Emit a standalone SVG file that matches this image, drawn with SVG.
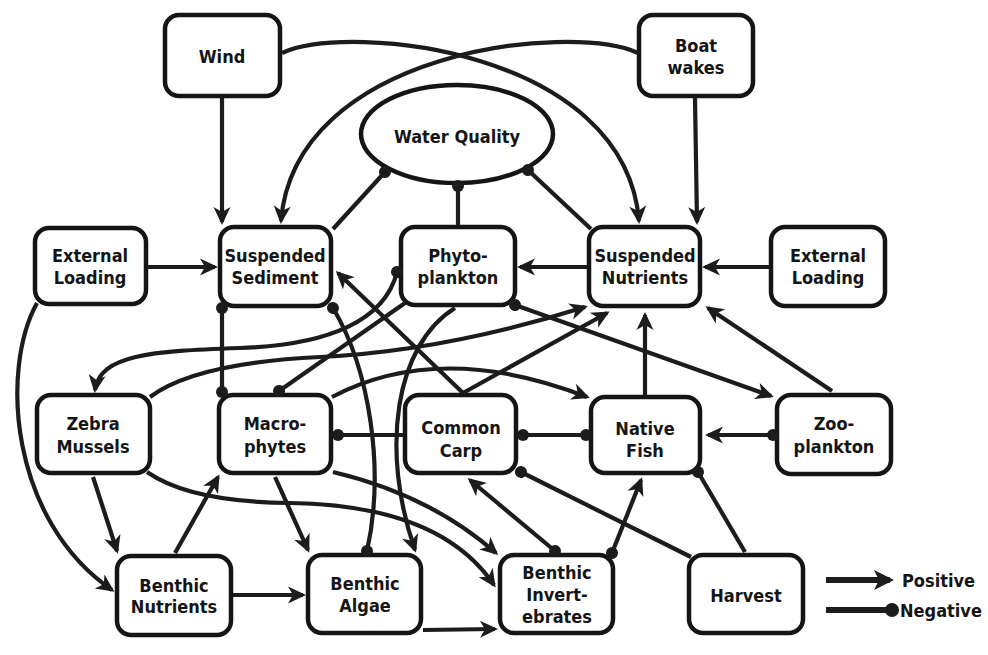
<svg xmlns="http://www.w3.org/2000/svg" width="988" height="655" viewBox="0 0 988 655">
<defs>
<style>
.n{fill:#fff;stroke:#151515;stroke-width:4.5}
.c{fill:none;stroke:#1c1c1c;stroke-width:4.2}
.t{font-family:"DejaVu Sans Condensed","DejaVu Sans",sans-serif;font-weight:bold;font-size:18px;fill:#151515;text-anchor:middle}
.lg{font-family:"DejaVu Sans Condensed","DejaVu Sans",sans-serif;font-weight:bold;font-size:18px;fill:#151515}
.pos{marker-end:url(#arr)}
.neg{marker-end:url(#dot)}
.ds{marker-start:url(#dot)}
</style>
<marker id="arr" markerUnits="userSpaceOnUse" viewBox="-20 -10 25 20" markerWidth="25" markerHeight="20" refX="0" refY="0" orient="auto">
<path d="M3,0 L-15,-8.5 L-10,0 L-15,8.5 Z" fill="#1c1c1c"/>
</marker>
<marker id="arrL" markerUnits="userSpaceOnUse" viewBox="-22 -12 28 24" markerWidth="28" markerHeight="24" refX="0" refY="0" orient="auto">
<path d="M4,0 L-16,-10 L-11,0 L-16,10 Z" fill="#1c1c1c"/>
</marker>
<marker id="dot" markerUnits="userSpaceOnUse" viewBox="-8 -8 16 16" markerWidth="16" markerHeight="16" refX="0" refY="0" orient="auto">
<circle cx="0" cy="0" r="6" fill="#1c1c1c"/>
</marker>
</defs>
<rect x="0" y="0" width="988" height="655" fill="#fff"/>

<g id="nodes">
<g id="wind"><rect class="n" x="165" y="15" width="115" height="81" rx="14"/><text class="t" x="222" y="63">Wind</text></g>
<g id="boat"><rect class="n" x="639" y="15" width="114" height="81" rx="14"/><text class="t" x="696" y="52">Boat</text><text class="t" x="696" y="74">wakes</text></g>
<g id="waterquality"><ellipse class="n" cx="457" cy="134" rx="96" ry="49"/><text class="t" x="457" y="143">Water Quality</text></g>
<g id="extload1"><rect class="n" x="35" y="228" width="111" height="76" rx="14"/><text class="t" x="90" y="262">External</text><text class="t" x="90" y="284">Loading</text></g>
<g id="suspsed"><rect class="n" x="220" y="227" width="111" height="79" rx="14"/><text class="t" x="275" y="262">Suspended</text><text class="t" x="275" y="284">Sediment</text></g>
<g id="phyto"><rect class="n" x="401" y="227" width="114" height="78" rx="14"/><text class="t" x="458" y="262">Phyto-</text><text class="t" x="458" y="284">plankton</text></g>
<g id="suspnut"><rect class="n" x="589" y="227" width="111" height="79" rx="14"/><text class="t" x="645" y="262">Suspended</text><text class="t" x="645" y="284">Nutrients</text></g>
<g id="extload2"><rect class="n" x="771" y="227" width="114" height="79" rx="14"/><text class="t" x="828" y="262">External</text><text class="t" x="828" y="284">Loading</text></g>
<g id="zebra"><rect class="n" x="37" y="395" width="113" height="78" rx="14"/><text class="t" x="93" y="430">Zebra</text><text class="t" x="93" y="453">Mussels</text></g>
<g id="macro"><rect class="n" x="219" y="395" width="112" height="78" rx="14"/><text class="t" x="275" y="430">Macro-</text><text class="t" x="275" y="453">phytes</text></g>
<g id="carp"><rect class="n" x="405" y="395" width="111" height="78" rx="14"/><text class="t" x="461" y="434">Common</text><text class="t" x="461" y="457">Carp</text></g>
<g id="fish"><rect class="n" x="591" y="397" width="109" height="76" rx="14"/><text class="t" x="645" y="435">Native</text><text class="t" x="645" y="457">Fish</text></g>
<g id="zoo"><rect class="n" x="777" y="395" width="114" height="79" rx="14"/><text class="t" x="834" y="430">Zoo-</text><text class="t" x="834" y="453">plankton</text></g>
<g id="bnut"><rect class="n" x="117" y="556" width="114" height="79" rx="14"/><text class="t" x="174" y="592">Benthic</text><text class="t" x="174" y="613">Nutrients</text></g>
<g id="balgae"><rect class="n" x="308" y="555" width="113" height="78" rx="14"/><text class="t" x="365" y="590">Benthic</text><text class="t" x="365" y="612">Algae</text></g>
<g id="binv"><rect class="n" x="500" y="555" width="113" height="78" rx="14"/><text class="t" x="557" y="579">Benthic</text><text class="t" x="557" y="601">Invert-</text><text class="t" x="557" y="623">ebrates</text></g>
<g id="harvest"><rect class="n" x="689" y="555" width="114" height="78" rx="14"/><text class="t" x="746" y="602">Harvest</text></g>
</g>

<g id="connectors">
<path class="c pos" d="M222,98 L222,222"/>
<path class="c pos" d="M282,53 C350,22 625,50 639,221"/>
<path class="c pos" d="M638,53 C570,22 295,50 281,221"/>
<path class="c pos" d="M695,98 L697,222"/>
<path class="c pos" d="M147,267 L215,267"/>
<path class="c pos" d="M769,267 L705,267"/>
<path class="c pos" d="M587,267 L520,267"/>
<path class="c neg" d="M333,229 L385,172"/>
<path class="c neg" d="M458,225 L458,186"/>
<path class="c neg" d="M591,229 L528,170"/>
<path class="c neg ds" d="M222,308 L222,392"/>
<path class="c neg ds" d="M333,308 C370,370 385,470 367,551"/>
<path class="c pos ds" d="M397,272 C385,320 330,345 240,348 C150,351 100,355 95,390"/>
<path class="c neg" d="M405,303 L279,391"/>
<path class="c pos" d="M455,308 C395,345 380,450 415,550"/>
<path class="c pos ds" d="M515,305 L771,396"/>
<path class="c pos" d="M463,393 L338,273"/>
<path class="c pos" d="M463,393 L607,313"/>
<path class="c pos" d="M150,397 Q195,363 320,357 Q445,351 585,307"/>
<path class="c pos" d="M332,397 Q440,340 587,397"/>
<path class="c neg" d="M403,435 L338,435"/>
<path class="c neg ds" d="M523,435 L586,435"/>
<path class="c pos ds" d="M773,435 L708,435"/>
<path class="c pos" d="M645,395 L645,315"/>
<path class="c pos" d="M832,391 L708,308"/>
<path class="c neg" d="M745,552 L698,472"/>
<path class="c neg" d="M691,557 L521,472"/>
<path class="c pos ds" d="M612,553 L641,480"/>
<path class="c pos ds" d="M555,551 L470,480"/>
<path class="c pos" d="M333,472 Q430,495 496,553"/>
<path class="c pos" d="M147,472 Q190,502 290,503 Q440,505 494,585"/>
<path class="c pos" d="M275,477 L308,550"/>
<path class="c pos" d="M93,477 L117,551"/>
<path class="c pos" d="M175,553 L218,477"/>
<path class="c pos" d="M37,303 C0,370 10,520 112,590"/>
<path class="c pos" d="M233,595 L303,595"/>
<path class="c pos" d="M423,630 L495,629"/>
</g>

<g id="legend">
<path d="M826,580 L890,580" fill="none" stroke="#1c1c1c" stroke-width="6" marker-end="url(#arrL)"/>
<path d="M826,610 L892,610" fill="none" stroke="#1c1c1c" stroke-width="6"/>
<circle cx="892" cy="610" r="7" fill="#1c1c1c"/>
<text class="lg" x="902" y="587">Positive</text>
<text class="lg" x="900" y="617">Negative</text>
</g>
</svg>
